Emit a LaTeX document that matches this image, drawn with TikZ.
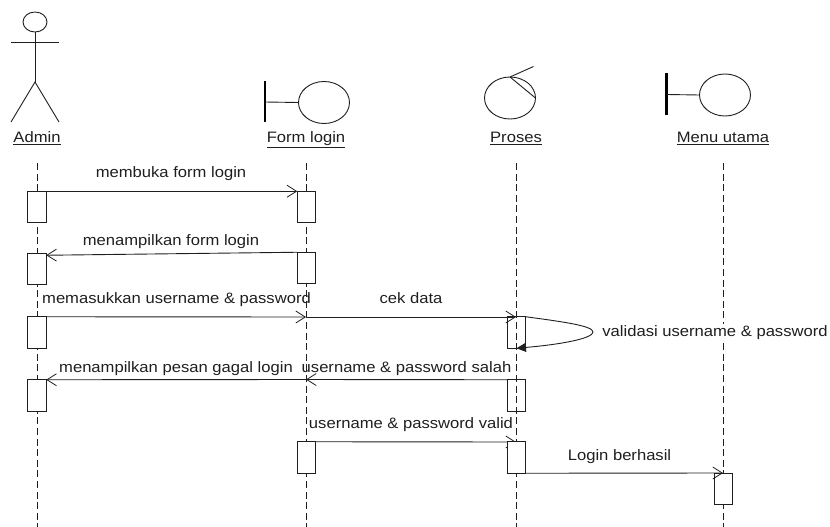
\documentclass[tikz,border=0pt]{standalone}
\usepackage{fontspec}
\setmainfont[FakeStretch=1.1]{Liberation Sans}
\usetikzlibrary{arrows.meta,backgrounds,shapes.geometric}
\definecolor{ink}{gray}{0.12}
\tikzset{
  x=1pt,y=-1pt,
  lifeline/.style={draw=ink,line width=0.9pt,dash pattern=on 7pt off 3.6pt},
  actbox/.style={draw=ink,fill=white,line width=0.9pt,minimum width=18.5pt,minimum height=31.5pt,inner sep=0pt,outer sep=0pt},
  actopen/.style={actbox,fill=none},
  msg/.style={draw=ink,line width=0.9pt,-{Straight Barb[length=9.5pt,width=12pt,line width=0.8pt]}},
  selfmsg/.style={draw=ink,line width=0.9pt,-{Triangle[length=9.5pt,width=9pt]}},
  plain/.style={draw=ink,line width=0.9pt},
  bar/.style={draw=black,line width=2.4pt},
  blob/.style={ellipse,draw=ink,line width=0.9pt,minimum width=51pt,minimum height=42pt,inner sep=0pt,outer sep=0pt},
  lbl/.style={font=\fontsize{15.1pt}{17pt}\selectfont,text=ink,inner sep=0pt,anchor=base},
}
\begin{document}
\begin{tikzpicture}
\useasboundingbox (0,0) rectangle (830,527);
% lifeline ends
\foreach \n/\x in {A/37,F/306,P/516,M/723}{
  \coordinate (\n top) at (\x,163);
  \coordinate (\n bot) at (\x,527);
}
\coordinate (Fm3) at (306,317);
\coordinate (Fm4) at (306,379.5);
\coordinate (Pm3) at (516,317);
\coordinate (Pm5) at (516,442);
\coordinate (Mm6) at (723,473);
% actor
\node[ellipse,draw=ink,line width=0.9pt,minimum width=24pt,minimum height=20pt,inner sep=0pt,outer sep=0pt] (head) at (35,22) {};
\coordinate (armL) at (11,42);
\coordinate (armR) at (59,42);
\coordinate (hip) at (35,82);
\coordinate (legL) at (11,122);
\coordinate (legR) at (59,122);
\draw[plain] (head.south) -- (hip);
\draw[plain] (armL) -- (armR);
\draw[plain] (legL) -- (hip) -- (legR);
% boundary: Form login
\coordinate (fbT) at (265,81);
\coordinate (fbB) at (265,122);
\coordinate (fbM) at (265,102);
\draw[bar] (fbT) -- (fbB);
\node[blob] (fc) at (324,102.5) {};
\draw[plain] (fbM) -- (fc.west);
% control: Proses
\node[blob] (pc) at (510,98) {};
\coordinate (pt) at (533.5,66.5);
\draw[plain] (pc.north) -- (pt);
\draw[plain] (pc.north) -- (pc.east);
% boundary: Menu utama
\coordinate (mbT) at (666.5,73);
\coordinate (mbB) at (666.5,115);
\coordinate (mbM) at (666.5,94.5);
\draw[bar] (mbT) -- (mbB);
\node[blob] (mc) at (725,95) {};
\draw[plain] (mbM) -- (mc.west);
% object names
\node[lbl] (nA) at (37,142.7) {\underline{Admin}};
\node[lbl] (nF) at (306,142.7) {\underline{Form login}};
\node[lbl] (nP) at (516,142.7) {\underline{Proses}};
\node[lbl] (nM) at (723,142.7) {\underline{Menu utama}};
% activations
\node[actbox] (a1) at (37,207) {};
\node[actbox] (f1) at (306.5,207) {};
\node[actbox] (a2) at (37,269) {};
\node[actbox] (f2) at (306.5,268) {};
\node[actbox] (a3) at (37,332.5) {};
\node[actopen] (p3) at (516.5,332.5) {};
\node[actbox] (a4) at (37,395.5) {};
\node[actopen] (p4) at (516.5,395.5) {};
\node[actbox] (f5) at (306.5,457.5) {};
\node[actbox] (p5) at (516.5,457.5) {};
\node[actbox] (m6) at (723.5,489) {};
\begin{scope}[on background layer]
  \foreach \n in {A,F,P,M}{ \draw[lifeline] (\n top) -- (\n bot); }
  \draw[msg] (f5.north east) -- (Pm5);
\end{scope}
% messages
\draw[msg] (a1.north east) -- (f1.north west);
\draw[msg] (f2.north west) -- ([yshift=-2pt]a2.north east);
\draw[msg] (a3.north east) -- (Fm3);
\draw[msg] (Fm3) -- (Pm3);
\draw[msg] (p4.north west) -- (Fm4);
\draw[msg] (Fm4) -- (a4.north east);
\draw[msg] (p5.south east) -- (Mm6);
\draw[selfmsg] (p3.north east) .. controls (565,322) and (593,326) .. (593,332) .. controls (593,338) and (565,344) .. (p3.south);
% labels
\node[lbl] at (171,177.7) {membuka form login};
\node[lbl] at (171,245.7) {menampilkan form login};
\node[lbl] at (176.5,303.7) {memasukkan username \& password};
\node[lbl] at (411,303.7) {cek data};
\node[lbl] at (176,372.7) {menampilkan pesan gagal login};
\node[lbl] at (406.5,372.7) {username \& password salah};
\node[lbl] at (411,428.7) {username \& password valid};
\node[lbl] at (619.5,460.7) {Login berhasil};
\node[font=\fontsize{15.1pt}{17pt}\selectfont,text=ink,fill=white,inner sep=1pt] at (715,332.5) {validasi username \& password};
\end{tikzpicture}
\end{document}
